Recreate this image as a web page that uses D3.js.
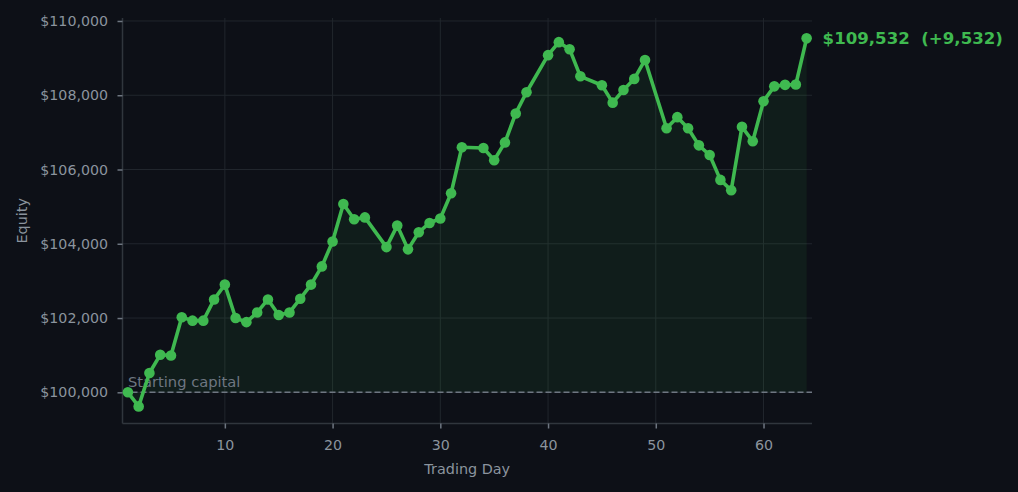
<!DOCTYPE html>
<html>
<head>
    <meta charset="UTF-8" />
    <title>Equity Curve</title>
    <script src="https://cdn.jsdelivr.net/npm/d3@7"></script>
    <style type="text/css">
        html, body {
            margin: 0;
            padding: 0;
            background-color: #0d1017;
        }
        svg {
            display: block;
            font-family: 'DejaVu Sans', sans-serif;
        }
    </style>
</head>
<body>
<div id="chart"></div>
<script>
    // trading days that have a recorded equity value
    var days = [1, 2, 3, 4, 5, 6, 7, 8, 9, 10, 11, 12, 13, 14, 15, 16, 17, 18, 19, 20,
        21, 22, 23, 25, 26, 27, 28, 29, 30, 31, 32, 34, 35, 36, 37, 38, 40, 41, 42, 43,
        45, 46, 47, 48, 49, 51, 52, 53, 54, 55, 56, 57, 58, 59, 60, 61, 62, 63, 64];

    var equity = [100000, 99620, 100520, 101010, 100990, 102020, 101930, 101930, 102500, 102900,
        102000, 101890, 102150, 102500, 102080, 102150, 102520, 102900, 103390, 104060,
        105070, 104660, 104710, 103910, 104490, 103850, 104310, 104560, 104680, 105360,
        106600, 106580, 106250, 106730, 107510, 108080, 109080, 109430, 109240, 108510,
        108270, 107800, 108140, 108440, 108950, 107110, 107410, 107110, 106650, 106390,
        105720, 105440, 107150, 106760, 107840, 108240, 108280, 108290, 109532];

    var startingCapital = 100000;
    var xTicks = [10, 20, 30, 40, 50, 60];
    var yTicks = [100000, 102000, 104000, 106000, 108000, 110000];

    var w = 1018, h = 492;
    var plotLeft = 122.5, plotRight = 812, plotTop = 18, plotBottom = 423.5;

    var green = "#3fb950";
    var gridColor = "#21262d";
    var spineColor = "#30363d";
    var textColor = "#8b949e";

    var data = days.map(function (d, i) { return {day: d, value: equity[i]}; });

    var x = d3.scaleLinear().domain([0.5, 64.5]).range([plotLeft, plotRight]);
    var y = d3.scaleLinear().domain([99160, 110080]).range([plotBottom, plotTop]);

    var svg = d3.select("#chart")
        .append("svg")
        .attr("width", w)
        .attr("height", h);

    svg.append("rect")
        .attr("width", w)
        .attr("height", h)
        .attr("fill", "#0d1017");

    // grid
    svg.append("g").selectAll("line")
        .data(xTicks)
        .join("line")
        .attr("x1", function (d) { return x(d); })
        .attr("x2", function (d) { return x(d); })
        .attr("y1", plotTop)
        .attr("y2", plotBottom)
        .attr("stroke", gridColor)
        .attr("stroke-width", 1);

    svg.append("g").selectAll("line")
        .data(yTicks)
        .join("line")
        .attr("x1", plotLeft)
        .attr("x2", plotRight)
        .attr("y1", function (d) { return y(d); })
        .attr("y2", function (d) { return y(d); })
        .attr("stroke", gridColor)
        .attr("stroke-width", 1);

    // shaded area between curve and starting capital
    var area = d3.area()
        .x(function (d) { return x(d.day); })
        .y0(y(startingCapital))
        .y1(function (d) { return y(d.value); });

    svg.append("path")
        .datum(data)
        .attr("d", area)
        .attr("fill", green)
        .attr("fill-opacity", 0.08);

    // starting capital reference
    svg.append("line")
        .attr("x1", plotLeft)
        .attr("x2", plotRight)
        .attr("y1", y(startingCapital))
        .attr("y2", y(startingCapital))
        .attr("stroke", "#6e7681")
        .attr("stroke-width", 1.6)
        .attr("stroke-dasharray", "6,3");

    svg.append("text")
        .attr("x", x(1))
        .attr("y", y(startingCapital) - 5)
        .attr("fill", "#6e7681")
        .style("font-size", "14.7px")
        .text("Starting capital");

    // axes
    var xAxis = d3.axisBottom(x)
        .tickValues(xTicks)
        .tickSize(5)
        .tickPadding(11.5);

    var yAxis = d3.axisLeft(y)
        .tickValues(yTicks)
        .tickSize(5)
        .tickPadding(9.5)
        .tickFormat(function (d) { return "$" + d3.format(",")(d); });

    var gx = svg.append("g")
        .attr("transform", "translate(0," + plotBottom + ")")
        .call(xAxis);

    var gy = svg.append("g")
        .attr("transform", "translate(" + plotLeft + ",0)")
        .call(yAxis);

    [gx, gy].forEach(function (g) {
        g.attr("font-size", null).attr("font-family", null);
        g.select(".domain").attr("stroke", spineColor).attr("stroke-width", 1.5);
        g.selectAll(".tick line").attr("stroke", "#6e7681").attr("stroke-width", 1.5);
        g.selectAll(".tick text")
            .attr("fill", textColor)
            .style("font-family", "'DejaVu Sans', sans-serif")
            .style("font-size", "14.2px");
    });
    gx.select(".domain").attr("d", "M" + plotLeft + ",0H" + plotRight);
    gy.select(".domain").attr("d", "M0," + plotTop + "V" + plotBottom);

    svg.append("text")
        .attr("x", (plotLeft + plotRight) / 2)
        .attr("y", 474)
        .attr("text-anchor", "middle")
        .attr("fill", textColor)
        .style("font-size", "14.4px")
        .text("Trading Day");

    svg.append("text")
        .attr("transform", "translate(27," + ((plotTop + plotBottom) / 2) + ") rotate(-90)")
        .attr("text-anchor", "middle")
        .attr("fill", textColor)
        .style("font-size", "14.4px")
        .text("Equity");

    // equity curve
    var line = d3.line()
        .x(function (d) { return x(d.day); })
        .y(function (d) { return y(d.value); });

    svg.append("path")
        .datum(data)
        .attr("d", line)
        .attr("fill", "none")
        .attr("stroke", green)
        .attr("stroke-width", 3.6)
        .attr("stroke-linejoin", "round");

    svg.append("g").selectAll("circle")
        .data(data)
        .join("circle")
        .attr("cx", function (d) { return x(d.day); })
        .attr("cy", function (d) { return y(d.value); })
        .attr("r", 5.3)
        .attr("fill", green);

    // final value annotation
    var last = data[data.length - 1];
    svg.append("text")
        .attr("x", x(last.day) + 16)
        .attr("y", y(last.value))
        .attr("dy", "0.35em")
        .attr("fill", green)
        .style("font-size", "16.6px")
        .attr("font-weight", "bold")
        .attr("xml:space", "preserve")
        .style("white-space", "pre")
        .text("$" + d3.format(",")(last.value) + "  (+" + d3.format(",")(last.value - startingCapital) + ")");
</script>
</body>
</html>
